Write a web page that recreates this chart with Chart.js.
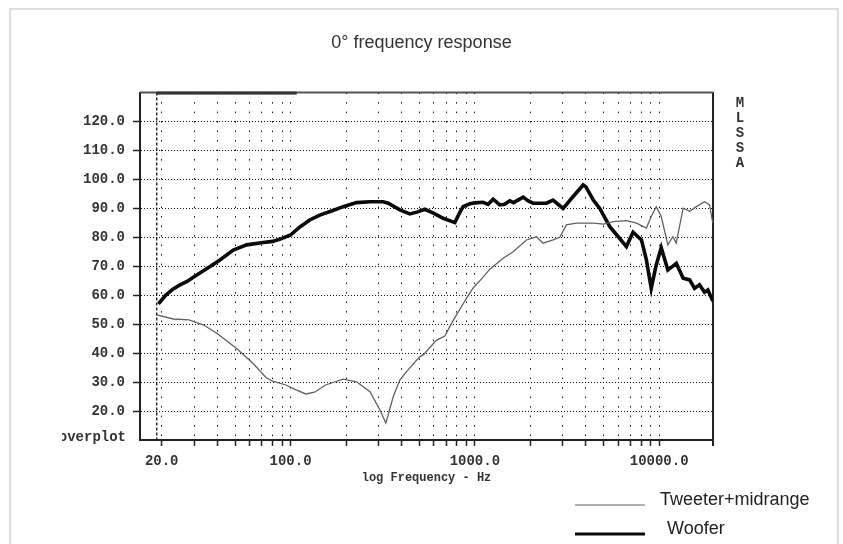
<!DOCTYPE html>
<html>
<head>
<meta charset="utf-8">
<script src="https://cdn.jsdelivr.net/npm/chart.js@4.4.0/dist/chart.umd.min.js"></script>
<style>
  html, body { margin: 0; padding: 0; background: #fff; }
  #wrap { width: 843px; height: 544px; }
</style>
</head>
<body>
<div id="wrap"><canvas id="fr" width="843" height="544"></canvas></div>
<script>
// frequency response
const wooferHz = [19.2, 21, 23.1, 25, 27.3, 31, 36.6, 41.4, 48.9, 57.8, 71, 80, 88, 100, 112, 127, 144, 170, 193, 228, 270, 318, 339, 392, 444, 490, 535, 600, 673, 779, 820, 864, 940, 1000, 1109, 1180, 1257, 1366, 1450, 1548, 1620, 1829, 1950, 2071, 2447, 2658, 3012, 3416, 3870, 4000, 4391, 4765, 5398, 6000, 6644, 7217, 8020, 8527, 9060, 9600, 10265, 11150, 12400, 13500, 14650, 15570, 16560, 17630, 18390, 19560];
const wooferDb = [57.0, 60.0, 62.2, 63.5, 64.7, 67.0, 69.9, 72.2, 75.6, 77.4, 78.2, 78.6, 79.4, 80.8, 83.5, 86.0, 87.7, 89.3, 90.6, 92.0, 92.3, 92.3, 91.8, 89.5, 88.1, 88.8, 89.7, 88.3, 86.6, 85.1, 88.0, 90.6, 91.6, 91.9, 92.1, 91.4, 93.2, 91.2, 91.4, 92.6, 92.0, 93.9, 92.6, 91.8, 91.8, 92.9, 90.0, 94.1, 98.1, 97.5, 92.9, 90.0, 83.7, 80.2, 76.8, 81.8, 79.1, 72.2, 62.4, 70.0, 76.4, 68.7, 71.0, 65.9, 65.3, 62.4, 63.6, 61.0, 61.8, 58.0];

const tweeterHz = [18.8, 23.1, 28.1, 33.8, 39.8, 50.8, 62.5, 73.6, 80, 94.3, 108, 121, 135, 155, 193, 228, 270, 306, 329, 361, 392, 426, 503, 525, 620, 688, 747, 847, 902, 979, 1100, 1206, 1424, 1614, 1906, 2160, 2346, 2658, 2890, 3140, 3555, 4391, 4983, 5640, 6644, 7550, 8527, 9060, 9650, 10265, 11150, 11860, 12380, 13500, 14650, 15910, 17630, 18770, 19560];
const tweeterDb = [53.2, 51.8, 51.5, 49.7, 46.9, 41.7, 36.5, 31.6, 30.3, 29.0, 27.2, 25.9, 26.5, 29.0, 31.0, 30.1, 26.7, 20.3, 15.8, 25.0, 30.7, 33.6, 38.8, 39.4, 44.5, 45.9, 50.3, 56.1, 59.0, 62.5, 66.0, 69.0, 72.8, 75.0, 79.1, 80.2, 78.0, 79.1, 80.0, 84.3, 84.9, 84.9, 84.6, 85.4, 85.8, 84.9, 83.2, 87.2, 90.6, 87.2, 77.4, 80.2, 78.0, 90.1, 89.0, 90.6, 92.3, 91.2, 84.9];

const freqTicks = [20, 30, 40, 50, 60, 70, 80, 90, 100, 200, 300, 400, 500, 600, 700, 800, 900, 1000, 2000, 3000, 4000, 5000, 6000, 7000, 8000, 9000, 10000];
const freqLabels = { 20: "20.0", 100: "100.0", 1000: "1000.0", 10000: "10000.0" };
const dbTicks = [20, 30, 40, 50, 60, 70, 80, 90, 100, 110, 120];

const overlayStartHz = 18.8;  // dashed start line of the overplot
const overlayBarEndHz = 108;  // dark bar on the top frame

const monoFont = "'Liberation Mono', 'DejaVu Sans Mono', monospace";
const sansFont = "'Liberation Sans', Arial, sans-serif";

function toPoints(xs, ys) {
  return xs.map((x, i) => ({ x: x, y: ys[i] }));
}

const decorations = {
  id: "decorations",
  beforeDraw(chart) {
    const ctx = chart.ctx;
    ctx.save();
    ctx.strokeStyle = "#dedede";
    ctx.lineWidth = 2;
    ctx.strokeRect(10, 9, 828, 600);
    ctx.restore();
  },
  beforeDatasetsDraw(chart) {
    const { ctx, chartArea: a, scales } = chart;
    const x0 = scales.x.getPixelForValue(overlayStartHz);
    const x1 = scales.x.getPixelForValue(overlayBarEndHz);
    ctx.save();
    // top frame
    ctx.strokeStyle = "#555";
    ctx.lineWidth = 2;
    ctx.beginPath();
    ctx.moveTo(a.left, a.top);
    ctx.lineTo(a.right, a.top);
    ctx.stroke();
    // right frame runs a little below the axis
    ctx.strokeStyle = "#222";
    ctx.beginPath();
    ctx.moveTo(a.right, a.bottom);
    ctx.lineTo(a.right, a.bottom + 6);
    ctx.stroke();
    // dashed start line
    ctx.strokeStyle = "#111";
    ctx.lineWidth = 1.3;
    ctx.setLineDash([3, 2]);
    ctx.beginPath();
    ctx.moveTo(x0, a.top);
    ctx.lineTo(x0, a.bottom);
    ctx.stroke();
    ctx.setLineDash([]);
    // dark bar on top
    ctx.fillStyle = "#333";
    ctx.fillRect(x0, a.top - 1, x1 - x0, 3);
    ctx.restore();
  },
  afterDraw(chart) {
    const { ctx, chartArea: a } = chart;
    ctx.save();
    ctx.fillStyle = "#333";
    ctx.font = "bold 14px " + monoFont;
    ctx.textAlign = "center";
    ctx.textBaseline = "middle";
    "MLSSA".split("").forEach((ch, i) => {
      ctx.fillText(ch, 740, a.top + 11 + i * 15);
    });
    // clipped "overplot" tag
    ctx.save();
    ctx.beginPath();
    ctx.rect(62, a.bottom - 15, 80, 20);
    ctx.clip();
    ctx.textAlign = "right";
    ctx.fillText("overplot", 126, a.bottom - 3);
    ctx.restore();

    // legend
    const rowsY = [505, 534];
    const textX = [660, 667];
    ctx.font = "18px " + sansFont;
    ctx.textAlign = "left";
    chart.data.datasets.forEach((ds, i) => {
      ctx.strokeStyle = ds.borderColor;
      ctx.lineWidth = ds.legendWidth;
      ctx.beginPath();
      ctx.moveTo(575, rowsY[i]);
      ctx.lineTo(645, rowsY[i]);
      ctx.stroke();
      ctx.fillStyle = "#222";
      ctx.fillText(ds.label, textX[i], rowsY[i] - 5);
    });
    ctx.restore();
  }
};

new Chart(document.getElementById("fr"), {
  type: "line",
  data: {
    datasets: [
      {
        label: "Tweeter+midrange",
        data: toPoints(tweeterHz, tweeterDb),
        borderColor: "#606060",
        borderWidth: 1.3,
        legendWidth: 1,
        pointRadius: 0,
        tension: 0,
      },
      {
        label: "Woofer",
        data: toPoints(wooferHz, wooferDb),
        borderColor: "#0a0a0a",
        borderWidth: 3.6,
        legendWidth: 3,
        pointRadius: 0,
        tension: 0,
      },
    ],
  },
  options: {
    responsive: false,
    animation: false,
    devicePixelRatio: 1,
    layout: { padding: 0 },
    plugins: {
      legend: { display: false },
      tooltip: { enabled: false },
      title: {
        display: true,
        text: "0° frequency response",
        color: "#333",
        font: { family: sansFont, size: 18, weight: "normal" },
        padding: { top: 32, bottom: 39 },
      },
    },
    scales: {
      x: {
        type: "logarithmic",
        min: 15.25,
        max: 19600,
        afterBuildTicks: (scale) => {
          scale.ticks = freqTicks.map((v) => ({ value: v }));
        },
        afterFit: (scale) => {
          scale.height = 104;
        },
        ticks: {
          autoSkip: false,
          maxRotation: 0,
          padding: 7,
          color: "#333",
          font: { family: monoFont, size: 14, weight: "bold" },
          callback: (v) => freqLabels[v] || "",
        },
        grid: {
          color: "#111",
          lineWidth: 1,
          tickLength: 6,
          tickColor: "#222",
          tickBorderDash: [],
          tickWidth: 1.5,
        },
        border: { display: true, color: "#222", width: 2, dash: [1.5, 8] },
        title: {
          display: true,
          text: "log Frequency - Hz",
          color: "#333",
          font: { family: monoFont, size: 12, weight: "bold" },
          padding: { top: 0, bottom: 59 },
        },
      },
      y: {
        type: "linear",
        min: 10,
        max: 130,
        afterBuildTicks: (scale) => {
          scale.ticks = dbTicks.map((v) => ({ value: v }));
        },
        afterFit: (scale) => {
          scale.width = 140;
        },
        ticks: {
          padding: 8,
          color: "#333",
          font: { family: monoFont, size: 14, weight: "bold" },
          callback: (v) => v.toFixed(1),
        },
        grid: {
          color: "#111",
          lineWidth: 1,
          tickLength: 7,
          tickColor: "#222",
          tickBorderDash: [],
          tickWidth: 1.5,
        },
        border: { display: true, color: "#222", width: 2, dash: [1, 2] },
      },
      // right-hand frame of the plot, also keeps room for the MLSSA tag
      yRight: {
        type: "linear",
        position: "right",
        min: 10,
        max: 130,
        afterFit: (scale) => {
          scale.width = 130;
        },
        ticks: { display: false },
        grid: { drawOnChartArea: false, drawTicks: false },
        border: { display: true, color: "#222", width: 2 },
      },
    },
  },
  plugins: [decorations],
});
</script>
</body>
</html>
